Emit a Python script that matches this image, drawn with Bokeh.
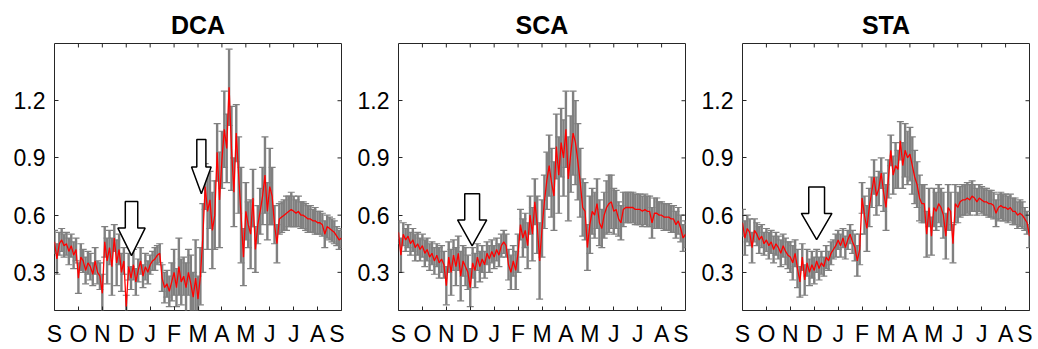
from bokeh.plotting import figure
from bokeh.layouts import row
from bokeh.models import ColumnDataSource, Whisker, TeeHead, FixedTicker, Range1d
from bokeh.embed import file_html
from bokeh.resources import INLINE

# ---------------- data ----------------
month_labels = ["S", "O", "N", "D", "J", "F", "M", "A", "M", "J", "J", "A", "S"]
month_ticks = list(range(13))
y_ticks = [0.3, 0.6, 0.9, 1.2]
# sampling grid: every 0.1 month from Sep (0) to Sep (12)
x_months = [i / 10 for i in range(121)]

dca_mean = [
    0.46, 0.37, 0.45, 0.47, 0.44, 0.45, 0.41, 0.44, 0.39, 0.42,
    0.27, 0.38, 0.36, 0.31, 0.35, 0.33, 0.29, 0.36, 0.30, 0.28,
    0.19, 0.46, 0.36, 0.43, 0.33, 0.48, 0.35, 0.42, 0.30, 0.36,
    0.12, 0.33, 0.27, 0.34, 0.25, 0.31, 0.36, 0.28, 0.33, 0.30,
    0.34, 0.36, 0.37, 0.39, 0.40, 0.27, 0.22, 0.24, 0.20, 0.25,
    0.30, 0.22, 0.33, 0.25, 0.28, 0.22, 0.30, 0.24, 0.17, 0.27,
    0.16, 0.28, 0.48, 0.75, 0.62, 0.68, 0.52, 0.60, 0.93, 0.68,
    0.89, 1.05, 0.95, 1.27, 0.95, 0.72, 1.03, 0.81, 0.60, 0.38,
    0.62, 0.55, 0.50, 0.69, 0.42, 0.55, 0.62, 0.70, 0.81, 0.62,
    0.75, 0.70, 0.55, 0.45, 0.58, 0.59, 0.60, 0.61, 0.62, 0.63,
    0.62, 0.61, 0.62, 0.60, 0.60, 0.59, 0.58, 0.58, 0.57, 0.57,
    0.56, 0.56, 0.55, 0.50, 0.54, 0.53, 0.52, 0.51, 0.49, 0.47,
    0.48,
]
dca_err = [
    0.06, 0.08, 0.06, 0.06, 0.06, 0.06, 0.07, 0.06, 0.07, 0.06,
    0.08, 0.07, 0.06, 0.07, 0.06, 0.07, 0.06, 0.07, 0.06, 0.07,
    0.10, 0.08, 0.12, 0.09, 0.15, 0.07, 0.12, 0.08, 0.10, 0.07,
    0.06, 0.07, 0.06, 0.08, 0.07, 0.06, 0.07, 0.06, 0.07, 0.06,
    0.05, 0.05, 0.06, 0.05, 0.05, 0.07, 0.08, 0.07, 0.08, 0.10,
    0.12, 0.10, 0.15, 0.12, 0.10, 0.13, 0.12, 0.15, 0.13, 0.20,
    0.12, 0.15, 0.18, 0.12, 0.20, 0.15, 0.20, 0.18, 0.15, 0.25,
    0.15, 0.20, 0.18, 0.20, 0.22, 0.18, 0.15, 0.20, 0.25, 0.15,
    0.15, 0.12, 0.18, 0.15, 0.12, 0.10, 0.12, 0.15, 0.20, 0.15,
    0.20, 0.15, 0.10, 0.10, 0.08, 0.08, 0.08, 0.09, 0.08, 0.09,
    0.08, 0.07, 0.08, 0.07, 0.07, 0.07, 0.07, 0.07, 0.06, 0.07,
    0.06, 0.06, 0.06, 0.07, 0.06, 0.06, 0.06, 0.06, 0.05, 0.05,
    0.05,
]

sca_mean = [
    0.51, 0.39, 0.50, 0.47, 0.49, 0.45, 0.47, 0.43, 0.45, 0.42,
    0.44, 0.40, 0.42, 0.38, 0.40, 0.36, 0.39, 0.35, 0.37, 0.34,
    0.23, 0.38, 0.30, 0.39, 0.33, 0.40, 0.28, 0.36, 0.33, 0.30,
    0.22, 0.35, 0.31, 0.38, 0.33, 0.37, 0.34, 0.40, 0.37, 0.41,
    0.38, 0.42, 0.39, 0.44, 0.46, 0.44, 0.34, 0.30, 0.36, 0.31,
    0.40, 0.55, 0.48, 0.52, 0.44, 0.60, 0.50, 0.67, 0.55, 0.36,
    0.53, 0.67, 0.78, 0.86, 0.77, 0.70, 0.96, 0.81, 0.98, 0.90,
    1.05, 0.79, 0.92, 1.03, 0.98, 0.88, 0.77, 0.64, 0.62, 0.43,
    0.55, 0.62, 0.60, 0.66, 0.56, 0.53, 0.60, 0.64, 0.66, 0.67,
    0.62, 0.63, 0.58, 0.56, 0.63, 0.64, 0.64, 0.64, 0.64, 0.63,
    0.63, 0.63, 0.62, 0.63, 0.62, 0.62, 0.56, 0.61, 0.61, 0.60,
    0.60, 0.59, 0.59, 0.59, 0.58, 0.58, 0.55, 0.57, 0.53, 0.48,
    0.50,
]
sca_err = [
    0.06, 0.09, 0.06, 0.06, 0.06, 0.06, 0.06, 0.07, 0.06, 0.06,
    0.06, 0.07, 0.06, 0.07, 0.06, 0.07, 0.06, 0.08, 0.07, 0.07,
    0.10, 0.08, 0.12, 0.08, 0.10, 0.09, 0.13, 0.08, 0.10, 0.09,
    0.10, 0.08, 0.09, 0.07, 0.08, 0.07, 0.07, 0.06, 0.07, 0.06,
    0.06, 0.06, 0.06, 0.06, 0.06, 0.06, 0.08, 0.09, 0.08, 0.10,
    0.10, 0.08, 0.10, 0.09, 0.12, 0.10, 0.14, 0.12, 0.15, 0.20,
    0.15, 0.14, 0.15, 0.16, 0.18, 0.18, 0.17, 0.20, 0.18, 0.20,
    0.20, 0.22, 0.20, 0.22, 0.22, 0.20, 0.18, 0.15, 0.15, 0.12,
    0.15, 0.12, 0.12, 0.13, 0.12, 0.10, 0.12, 0.14, 0.15, 0.14,
    0.12, 0.10, 0.09, 0.09, 0.09, 0.08, 0.08, 0.08, 0.08, 0.08,
    0.08, 0.08, 0.08, 0.08, 0.08, 0.08, 0.08, 0.08, 0.08, 0.07,
    0.07, 0.07, 0.07, 0.07, 0.07, 0.07, 0.07, 0.07, 0.07, 0.07,
    0.07,
]

sta_mean = [
    0.56, 0.48, 0.53, 0.51, 0.43, 0.52, 0.50, 0.47, 0.49, 0.45,
    0.47, 0.44, 0.46, 0.42, 0.45, 0.43, 0.40, 0.44, 0.41, 0.39,
    0.38, 0.35, 0.40, 0.32, 0.25, 0.38, 0.26, 0.35, 0.30, 0.34,
    0.31, 0.36, 0.32, 0.35, 0.33, 0.38, 0.36, 0.40, 0.42, 0.44,
    0.47, 0.44, 0.48, 0.43, 0.47, 0.50, 0.46, 0.43, 0.36, 0.42,
    0.69, 0.60, 0.53, 0.64, 0.72, 0.80, 0.70, 0.74, 0.82, 0.72,
    0.64, 0.79, 0.94, 0.81, 0.86, 0.84, 0.99, 0.86, 0.94, 0.90,
    0.92, 0.86, 0.80, 0.76, 0.69, 0.66, 0.66, 0.50, 0.64, 0.49,
    0.64, 0.62, 0.66, 0.64, 0.60, 0.49, 0.64, 0.62, 0.45, 0.66,
    0.64, 0.67, 0.68, 0.68, 0.69, 0.68, 0.70, 0.69, 0.67, 0.69,
    0.68, 0.67, 0.67, 0.66, 0.66, 0.65, 0.61, 0.64, 0.65, 0.64,
    0.64, 0.63, 0.64, 0.62, 0.62, 0.60, 0.61, 0.60, 0.58, 0.56,
    0.49,
]
sta_err = [
    0.07, 0.09, 0.07, 0.07, 0.08, 0.06, 0.06, 0.07, 0.06, 0.06,
    0.06, 0.07, 0.06, 0.07, 0.06, 0.06, 0.07, 0.06, 0.07, 0.07,
    0.08, 0.09, 0.07, 0.10, 0.08, 0.07, 0.08, 0.07, 0.07, 0.07,
    0.07, 0.06, 0.06, 0.06, 0.05, 0.06, 0.05, 0.06, 0.05, 0.06,
    0.05, 0.06, 0.05, 0.06, 0.05, 0.05, 0.06, 0.07, 0.08, 0.08,
    0.08, 0.10, 0.12, 0.10, 0.08, 0.09, 0.10, 0.09, 0.08, 0.10,
    0.12, 0.10, 0.08, 0.10, 0.12, 0.10, 0.10, 0.12, 0.14, 0.14,
    0.14, 0.15, 0.14, 0.12, 0.12, 0.10, 0.10, 0.12, 0.10, 0.10,
    0.10, 0.10, 0.10, 0.10, 0.12, 0.12, 0.12, 0.10, 0.10, 0.10,
    0.08, 0.08, 0.08, 0.08, 0.08, 0.08, 0.08, 0.07, 0.07, 0.07,
    0.07, 0.07, 0.07, 0.07, 0.07, 0.07, 0.07, 0.07, 0.07, 0.07,
    0.07, 0.07, 0.07, 0.07, 0.07, 0.07, 0.07, 0.07, 0.06, 0.06,
    0.06,
]

# arrow annotations: (center month, top, neck, tip, shaft half-width, head half-width)
dca_arrows = [(3.22, 0.671, 0.532, 0.388, 0.26, 0.57),
              (6.14, 0.996, 0.852, 0.712, 0.19, 0.41)]
sca_arrows = [(3.08, 0.712, 0.575, 0.439, 0.31, 0.61)]
sta_arrows = [(3.10, 0.747, 0.609, 0.472, 0.33, 0.64)]

FONT = "Liberation Sans"
AXIS_COLOR = "#262626"
ERR_COLOR = "#808080"

X_LO, X_HI = 0, 12
Y_LO, Y_HI = 0.1, 1.5
FRAME_W, FRAME_H = 287, 270
TICK_PX = 4


def make_panel(title, mean, err, arrows):
    p = figure(width=344, height=349, x_range=Range1d(X_LO, X_HI), y_range=Range1d(Y_LO, Y_HI),
               output_backend="svg", toolbar_location=None, title=title,
               min_border_left=54, min_border_right=3, min_border_top=43, min_border_bottom=36)
    p.background_fill_color = "white"
    p.border_fill_color = "white"
    p.outline_line_color = AXIS_COLOR
    p.outline_line_width = 1
    p.xgrid.visible = False
    p.ygrid.visible = False

    p.title.text_font = FONT
    p.title.text_font_size = "25px"
    p.title.text_font_style = "bold"
    p.title.align = "center"
    p.title.text_color = "black"

    src = ColumnDataSource(dict(
        x=x_months,
        y=mean,
        lower=[m - e for m, e in zip(mean, err)],
        upper=[m + e for m, e in zip(mean, err)],
    ))
    w = Whisker(source=src, base="x", lower="lower", upper="upper",
                line_color=ERR_COLOR, line_width=2.4, level="underlay",
                upper_head=TeeHead(size=7, line_color=ERR_COLOR, line_width=1.2),
                lower_head=TeeHead(size=7, line_color=ERR_COLOR, line_width=1.2))
    p.add_layout(w)
    p.line("x", "y", source=src, line_color="#ff0000", line_width=1.3)

    for (cx, top, neck, tip, shw, hhw) in arrows:
        xs = [cx - shw, cx + shw, cx + shw, cx + hhw, cx, cx - hhw, cx - shw]
        ys = [top, top, neck, neck, tip, neck, neck]
        p.patch(xs, ys, fill_color="white", line_color="black", line_width=1.5)

    # bottom axis: month letters
    xa = p.xaxis[0]
    xa.ticker = FixedTicker(ticks=month_ticks)
    xa.major_label_overrides = {t: lab for t, lab in zip(month_ticks, month_labels)}
    xa.major_label_text_font_size = "23px"
    xa.major_label_standoff = 10
    # left axis
    ya = p.yaxis[0]
    ya.ticker = FixedTicker(ticks=y_ticks)
    ya.major_label_text_font_size = "23px"
    ya.major_label_standoff = 9
    for ax in (xa, ya):
        ax.axis_line_color = None
        ax.major_tick_in = TICK_PX
        ax.major_tick_out = 0
        ax.minor_tick_line_color = None
        ax.major_tick_line_color = AXIS_COLOR
        ax.major_label_text_font = FONT
        ax.major_label_text_color = "black"

    # inward tick marks on top and right edges (MATLAB box style)
    dy = TICK_PX * (Y_HI - Y_LO) / FRAME_H
    dx = TICK_PX * (X_HI - X_LO) / FRAME_W
    xt = month_ticks[1:-1]
    p.segment(x0=xt, y0=[Y_HI] * len(xt), x1=xt, y1=[Y_HI - dy] * len(xt),
              line_color=AXIS_COLOR, line_width=1)
    p.segment(x0=[X_HI] * len(y_ticks), y0=y_ticks, x1=[X_HI - dx] * len(y_ticks), y1=y_ticks,
              line_color=AXIS_COLOR, line_width=1)
    return p


p1 = make_panel("DCA", dca_mean, dca_err, dca_arrows)
p2 = make_panel("SCA", sca_mean, sca_err, sca_arrows)
p3 = make_panel("STA", sta_mean, sta_err, sta_arrows)

layout = row(p1, p2, p3)
open("out.html", "w").write(file_html(layout, INLINE))
